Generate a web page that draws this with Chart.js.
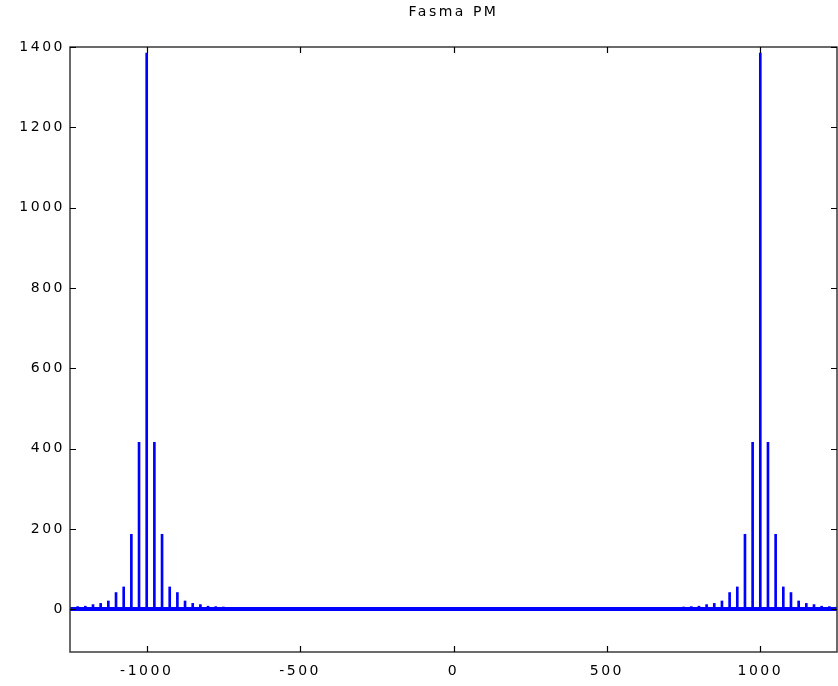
<!DOCTYPE html>
<html>
<head>
<meta charset="utf-8">
<script src="https://cdn.jsdelivr.net/npm/chart.js@4.4.1/dist/chart.umd.min.js"></script>
<style>
html,body{margin:0;padding:0;background:#ffffff;}
#wrap{width:838px;height:686px;}
canvas{display:block;}
</style>
</head>
<body>
<div id="wrap"><canvas id="c" width="838" height="686"></canvas></div>
<script>
// ---- data ----
const chartTitle = 'Fasma PM';

// spectral lines around the -1000 carrier
const lowFreqs = [-1225,-1200,-1175,-1150,-1125,-1100,-1075,-1050,-1025,-1000,-975,-950,-925,-900,-875,-850,-825,-800,-775,-750,-725,-700];
const lowAmps  = [7,8,12,15,21,42,56,187,416,1385,416,187,56,42,21,15,12,8,7,6,5,4];

// spectral lines around the +1000 carrier
const highFreqs = [700,725,750,775,800,825,850,875,900,925,950,975,1000,1025,1050,1075,1100,1125,1150,1175,1200,1225,1250];
const highAmps  = [4,5,6,7,8,12,15,21,42,56,187,416,1385,416,187,56,42,21,15,12,8,7,6];

// noise floor drawn across the whole band
const floorFreqs = [-1250, 1250];
const floorAmps  = [1, 1];

const xTickValues = [-1000, -500, 0, 500, 1000];
const yTickValues = [0, 200, 400, 600, 800, 1000, 1200, 1400];
const xRange = [-1250, 1250];
const yRange = [-106, 1400];

// ---- chart ----
const lineColor = '#0000ff';
const frameColor = '#3a3a3a';
const LETTER_SPACING = '2.5px';

const spikes = lowFreqs.map((f, i) => ({x: f, y: lowAmps[i]}))
  .concat(highFreqs.map((f, i) => ({x: f, y: highAmps[i]})));
const floorPts = floorFreqs.map((f, i) => ({x: f, y: floorAmps[i]}));

const spacingPlugin = {
  id: 'spacing',
  beforeLayout(chart) { chart.ctx.letterSpacing = LETTER_SPACING; },
  beforeDraw(chart) { chart.ctx.letterSpacing = LETTER_SPACING; }
};

const framePlugin = {
  id: 'frame',
  afterDraw(chart) {
    const {ctx, chartArea: {left, right, top, bottom}, scales: {x, y}} = chart;
    const L = 6;
    ctx.save();
    ctx.strokeStyle = frameColor;
    ctx.lineWidth = 1.5;
    ctx.strokeRect(left, top, right - left, bottom - top);
    ctx.lineWidth = 1.2;
    ctx.strokeStyle = '#000';
    ctx.beginPath();
    xTickValues.forEach(v => {
      const px = Math.round(x.getPixelForValue(v)) + 0.5;
      ctx.moveTo(px, bottom); ctx.lineTo(px, bottom - L);
      ctx.moveTo(px, top); ctx.lineTo(px, top + L);
    });
    yTickValues.forEach(v => {
      const py = Math.round(y.getPixelForValue(v)) + 0.5;
      ctx.moveTo(left, py); ctx.lineTo(left + L, py);
      ctx.moveTo(right, py); ctx.lineTo(right - L, py);
    });
    ctx.stroke();
    ctx.restore();
  }
};

const tickFont = {family: '"DejaVu Sans", Verdana, sans-serif', size: 14};

new Chart(document.getElementById('c'), {
  type: 'bar',
  data: {
    datasets: [
      {
        type: 'line',
        label: 'floor',
        data: floorPts,
        borderColor: lineColor,
        borderWidth: 4,
        pointRadius: 0,
        fill: false,
        order: 2
      },
      {
        type: 'bar',
        label: 'spectrum',
        data: spikes,
        backgroundColor: lineColor,
        borderWidth: 0,
        barThickness: 2,
        grouped: false,
        order: 1
      }
    ]
  },
  options: {
    responsive: false,
    animation: false,
    devicePixelRatio: 1,
    layout: {padding: {top: 0, right: 1, left: 0, bottom: 0}},
    plugins: {
      legend: {display: false},
      tooltip: {enabled: false},
      title: {
        display: true,
        text: chartTitle,
        fullSize: false,
        color: '#000',
        font: {family: '"DejaVu Sans", Verdana, sans-serif', size: 14, weight: 'normal', lineHeight: 1.2},
        padding: {top: 4, bottom: 26.2}
      }
    },
    scales: {
      x: {
        type: 'linear',
        position: 'bottom',
        min: xRange[0],
        max: xRange[1],
        offset: false,
        afterBuildTicks: s => { s.ticks = xTickValues.map(v => ({value: v})); },
        afterFit: s => { s.height = 34; },
        grid: {display: false, drawTicks: false},
        border: {display: false},
        ticks: {font: tickFont, color: '#000', padding: 11, maxRotation: 0, autoSkip: false,
                callback: v => String(v)}
      },
      y: {
        type: 'linear',
        position: 'left',
        min: yRange[0],
        max: yRange[1],
        afterBuildTicks: s => { s.ticks = yTickValues.map(v => ({value: v})); },
        afterFit: s => { s.width = 70; },
        grid: {display: false, drawTicks: false},
        border: {display: false},
        ticks: {font: tickFont, color: '#000', padding: 5, autoSkip: false,
                callback: v => String(v)}
      }
    }
  },
  plugins: [spacingPlugin, framePlugin]
});
</script>
</body>
</html>
